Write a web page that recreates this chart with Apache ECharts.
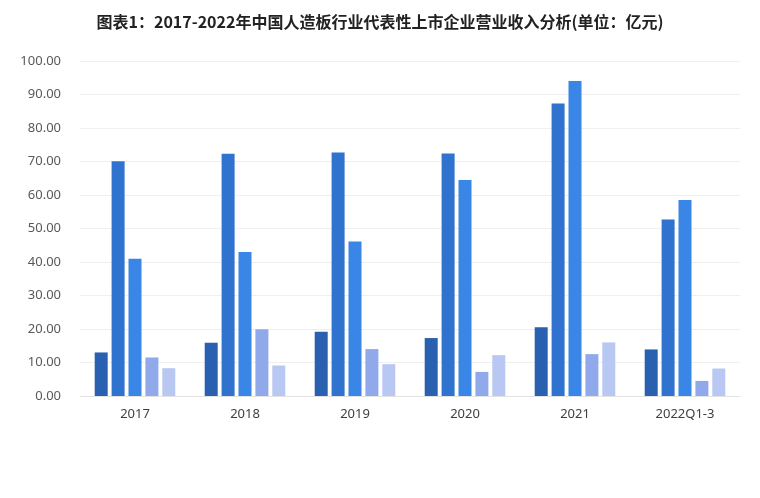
<!DOCTYPE html>
<html>
<head>
<meta charset="utf-8">
<script src="https://cdn.jsdelivr.net/npm/echarts@6/dist/echarts.min.js"></script>
<style>
  html, body { margin: 0; padding: 0; background: #fff; }
  #chart { width: 760px; height: 498px; }
</style>
</head>
<body>
<div id="chart"></div>
<script>
// 年份
const categories = ['2017', '2018', '2019', '2020', '2021', '2022Q1-3'];
// 五家企业营收（亿元），按图中柱子顺序
const seriesA = [13.0, 15.9, 19.2, 17.3, 20.5, 13.9];
const seriesB = [70.1, 72.3, 72.7, 72.4, 87.3, 52.7];
const seriesC = [41.0, 43.0, 46.1, 64.5, 94.0, 58.5];
const seriesD = [11.5, 19.9, 14.0, 7.2, 12.5, 4.5];
const seriesE = [8.3, 9.1, 9.5, 12.2, 16.0, 8.2];
const colors = ['#2960b0', '#2f73cf', '#3a86e6', '#8fa9ea', '#b8c8f2'];

let chart = echarts.init(document.getElementById('chart'));

function bar(data, idx) {
  return {
    type: 'bar',
    data: data,
    barWidth: 13,
    barGap: '30%',
    itemStyle: { color: colors[idx] }
  };
}

const option = {
  animation: false,
  title: {
    text: '图表1：2017-2022年中国人造板行业代表性上市企业营业收入分析(单位：亿元)',
    left: 'center',
    top: 9,
    textStyle: {
      fontFamily: 'Noto Sans CJK SC',
      fontSize: 16,
      fontWeight: 'bold',
      color: '#222'
    }
  },
  grid: {
    left: 80,
    right: 20,
    top: 61,
    bottom: 102
  },
  xAxis: {
    type: 'category',
    data: categories,
    axisLine: { lineStyle: { color: '#e3e3e3' } },
    axisTick: { show: false },
    axisLabel: {
      color: '#404040',
      fontSize: 13,
      margin: 12,
      fontFamily: 'Noto Sans'
    }
  },
  yAxis: {
    type: 'value',
    min: 0,
    max: 100,
    interval: 10,
    axisLine: { show: false },
    axisTick: { show: false },
    splitLine: { lineStyle: { color: '#efefef', width: 1 } },
    axisLabel: {
      color: '#595959',
      fontSize: 13,
      margin: 19,
      fontFamily: 'Noto Sans',
      formatter: (v) => v.toFixed(2)
    }
  },
  series: [
    bar(seriesA, 0),
    bar(seriesB, 1),
    bar(seriesC, 2),
    bar(seriesD, 3),
    bar(seriesE, 4)
  ]
};

chart.setOption(option);
</script>
</body>
</html>
